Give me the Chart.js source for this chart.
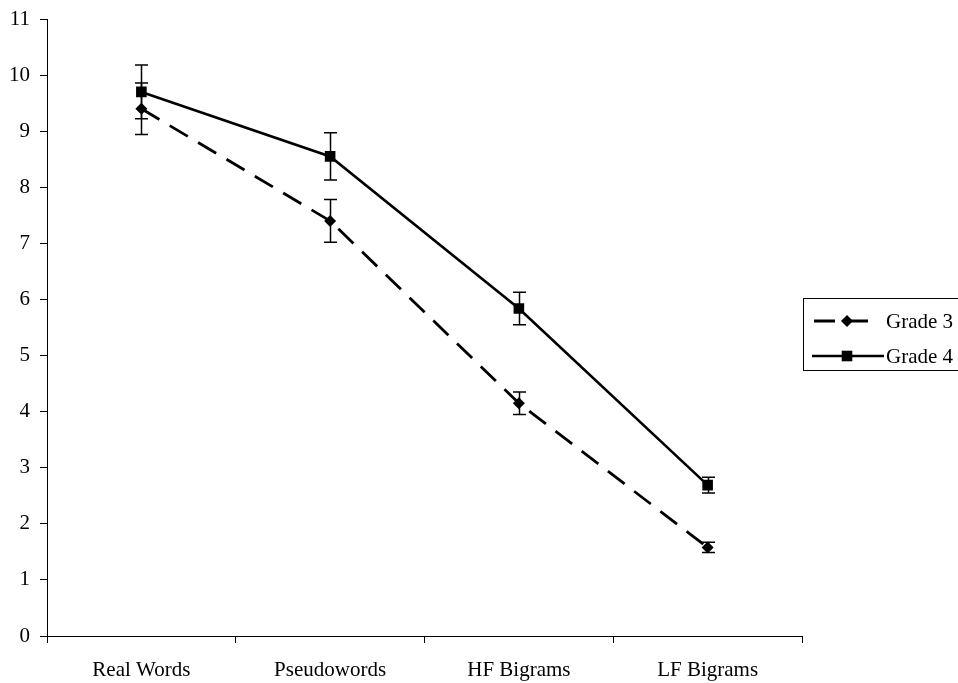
<!DOCTYPE html>
<html>
<head>
<meta charset="utf-8">
<script src="https://cdn.jsdelivr.net/npm/chart.js@4"></script>
<style>
  html, body { margin: 0; padding: 0; background: #fff; }
  #wrap { width: 958px; height: 683px; position: relative; }
</style>
</head>
<body>
<div id="wrap"><canvas id="chart" width="958" height="683"></canvas></div>
<script>
var categories = ["Real Words", "Pseudowords", "HF Bigrams", "LF Bigrams"];
var grade3 = [9.4, 7.4, 4.15, 1.58];
var grade3Err = [0.46, 0.38, 0.2, 0.09];
var grade4 = [9.7, 8.55, 5.84, 2.69];
var grade4Err = [0.48, 0.42, 0.29, 0.14];
var yTicks = [0, 1, 2, 3, 4, 5, 6, 7, 8, 9, 10, 11];

var FONT = "'Liberation Serif', 'Times New Roman', serif";

var errorBars = {
    id: "errorBars",
    afterDatasetsDraw: function(chart) {
        var ctx = chart.ctx;
        var yScale = chart.scales.y;
        var errs = [grade3Err, grade4Err];
        ctx.save();
        ctx.strokeStyle = "#000";
        ctx.lineWidth = 1.5;
        chart.data.datasets.forEach(function(ds, i) {
            var meta = chart.getDatasetMeta(i);
            meta.data.forEach(function(pt, j) {
                var v = ds.data[j];
                var top = yScale.getPixelForValue(v + errs[i][j]);
                var bot = yScale.getPixelForValue(v - errs[i][j]);
                var x = Math.round(pt.x) + 0.5;
                ctx.beginPath();
                ctx.moveTo(x, top);
                ctx.lineTo(x, bot);
                ctx.moveTo(x - 6.5, top);
                ctx.lineTo(x + 6.5, top);
                ctx.moveTo(x - 6.5, bot);
                ctx.lineTo(x + 6.5, bot);
                ctx.stroke();
            });
        });
        ctx.restore();
    }
};

var boxLegend = {
    id: "boxLegend",
    afterDraw: function(chart) {
        var ctx = chart.ctx;
        ctx.save();
        ctx.strokeStyle = "#000";
        ctx.lineWidth = 1;
        ctx.strokeRect(803.5, 298.5, 170, 72);
        var rows = [321, 356];
        chart.data.datasets.forEach(function(ds, i) {
            var y = rows[i];
            ctx.beginPath();
            ctx.lineWidth = ds.borderWidth;
            ctx.setLineDash(ds.borderDash || []);
            ctx.lineDashOffset = ds.borderDash ? -2 : 0;
            ctx.moveTo(812, y);
            ctx.lineTo(ds.borderDash ? 876 : 884, y);
            ctx.stroke();
            ctx.setLineDash([]);
            ctx.fillStyle = "#000";
            Chart.helpers.drawPoint(ctx, {
                pointStyle: ds.pointStyle,
                radius: ds.pointRadius,
                borderWidth: 0
            }, 847, y);
            ctx.fillStyle = "#000";
            ctx.font = "21px " + FONT;
            ctx.textBaseline = "middle";
            ctx.fillText(ds.label, 886, y + 1);
        });
        ctx.restore();
    }
};

var chart = new Chart(document.getElementById("chart").getContext("2d"), {
    type: "line",
    data: {
        labels: categories,
        datasets: [{
            label: "Grade 3",
            data: grade3,
            borderColor: "#000",
            backgroundColor: "#000",
            borderWidth: 2.8,
            borderDash: [21, 12],
            pointStyle: "rectRot",
            pointRadius: 6,
            pointBorderWidth: 0,
            tension: 0
        }, {
            label: "Grade 4",
            data: grade4,
            borderColor: "#000",
            backgroundColor: "#000",
            borderWidth: 2.6,
            pointStyle: "rect",
            pointRadius: 7.5,
            pointBorderWidth: 0,
            tension: 0
        }]
    },
    options: {
        responsive: false,
        animation: false,
        layout: { padding: { top: 19, right: 156, left: 0, bottom: 0 } },
        plugins: {
            legend: { display: false },
            tooltip: { enabled: false }
        },
        scales: {
            x: {
                offset: true,
                grid: {
                    offset: true,
                    drawOnChartArea: false,
                    tickLength: 7,
                    tickColor: "#000",
                    lineWidth: 1
                },
                border: { color: "#000", width: 1 },
                ticks: {
                    color: "#000",
                    padding: 15,
                    maxRotation: 0,
                    font: { family: FONT, size: 21 }
                },
                afterFit: function(scale) { scale.height = 47; }
            },
            y: {
                min: 0,
                max: 11,
                afterBuildTicks: function(scale) {
                    scale.ticks = yTicks.map(function(v) { return { value: v }; });
                },
                grid: {
                    drawOnChartArea: false,
                    tickLength: 7,
                    tickColor: "#000",
                    lineWidth: 1
                },
                border: { color: "#000", width: 1 },
                ticks: {
                    color: "#000",
                    padding: 10,
                    font: { family: FONT, size: 21 }
                },
                afterFit: function(scale) {
                    scale.width = 47;
                    scale.paddingTop = 0;
                    scale.paddingBottom = 0;
                }
            }
        }
    },
    plugins: [errorBars, boxLegend]
});
</script>
</body>
</html>
